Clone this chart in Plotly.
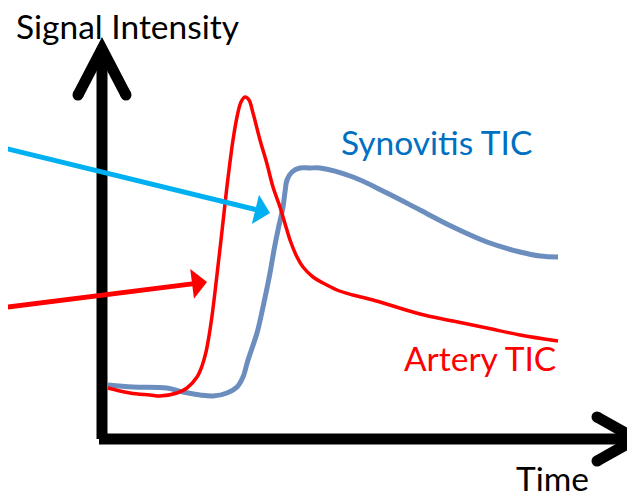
import plotly.graph_objects as go

# Time (arbitrary units from origin) and signal intensity values
artery_time = [6, 28, 48, 58, 75, 85, 95, 100, 104, 107, 110, 113, 116, 119, 122, 125, 128, 131,
               135, 139, 143, 147, 151, 158, 165, 171, 178, 184, 188, 195, 201, 211, 221, 235,
               251, 271, 291, 318, 351, 385, 418, 456]
artery_si = [51, 46, 44, 43, 46, 51, 62, 73, 87, 103, 123, 147, 173, 199, 226, 253, 277, 299,
             322, 337, 342, 339, 326, 299, 275, 252, 232, 212, 199, 182, 172, 162, 156, 149,
             144, 139, 133, 125, 118, 111, 104, 98]

syn_time = [6, 31, 65, 81, 98, 111, 125, 135, 141, 146, 155, 161, 168, 172, 176, 181, 183, 185,
            190, 198, 208, 218, 251, 285, 318, 351, 385, 418, 438, 456]
syn_si = [54, 52, 51, 47, 44, 43, 46, 52, 62, 79, 106, 132, 166, 189, 209, 232, 247, 259,
          267, 271, 271, 271, 262, 246, 229, 212, 197, 187, 183, 182]

# page body has an 8px default margin: shift the visible window to compensate
OFF = 8
X0, X1 = -102 + OFF, 533 + OFF
Y0, Y1 = -54 - OFF, 439 - OFF

fig = go.Figure()

fig.add_trace(go.Scatter(x=syn_time, y=syn_si, mode="lines",
                         line=dict(color="rgb(108,142,191)", width=5, shape="spline", smoothing=1.0),
                         hoverinfo="skip"))
fig.add_trace(go.Scatter(x=artery_time, y=artery_si, mode="lines",
                         line=dict(color="#FF0000", width=3.5, shape="spline", smoothing=1.0),
                         hoverinfo="skip"))

# Axes drawn as thick black arrows
AX = dict(color="black", width=11)
fig.add_shape(type="line", x0=0, y0=0, x1=0, y1=390, line=AX)
fig.add_shape(type="line", x0=-3, y0=0, x1=535, y1=0, line=AX)
fig.add_shape(type="path", path="M -24,344 L 0,390 L 24,344", line=AX)
fig.add_shape(type="path", path="M 495,22 L 534,0 L 495,-22", line=AX)
fig.add_trace(go.Scatter(x=[-24, 24, 495, 495], y=[344, 344, 22, -22], mode="markers",
                         marker=dict(color="black", size=11), hoverinfo="skip"))

# Pointer arrows from the left edge
fig.add_annotation(x=168, y=226, ax=-102, ay=292, xref="x", yref="y", axref="x", ayref="y",
                   text="", showarrow=True, arrowhead=1, arrowsize=1.0, arrowwidth=5,
                   arrowcolor="#00B0F0", standoff=0)
fig.add_annotation(x=105, y=157, ax=-102, ay=131, xref="x", yref="y", axref="x", ayref="y",
                   text="", showarrow=True, arrowhead=1, arrowsize=1.0, arrowwidth=5,
                   arrowcolor="#FF0000", standoff=0)

FONT = "Lato"
FS = 33.5
fig.add_annotation(x=-88, y=413, xref="x", yref="y", text="Signal Intensity", showarrow=False,
                   xanchor="left", yanchor="middle", font=dict(family=FONT, size=FS, color="black"))
fig.add_annotation(x=237, y=297, xref="x", yref="y", text="Synovitis TIC", showarrow=False,
                   xanchor="left", yanchor="middle", font=dict(family=FONT, size=FS, color="#0070C0"))
fig.add_annotation(x=300, y=81, xref="x", yref="y", text="Artery TIC", showarrow=False,
                   xanchor="left", yanchor="middle", font=dict(family=FONT, size=FS, color="#FF0000"))
fig.add_annotation(x=412, y=-39, xref="x", yref="y", text="Time", showarrow=False,
                   xanchor="left", yanchor="middle", font=dict(family=FONT, size=FS, color="black"))

fig.update_layout(width=635, height=493, margin=dict(l=0, r=0, t=0, b=0),
                  paper_bgcolor="white", plot_bgcolor="white", showlegend=False,
                  xaxis=dict(range=[X0, X1], visible=False, fixedrange=True),
                  yaxis=dict(range=[Y0, Y1], visible=False, fixedrange=True))

fig.write_html("out.html")
